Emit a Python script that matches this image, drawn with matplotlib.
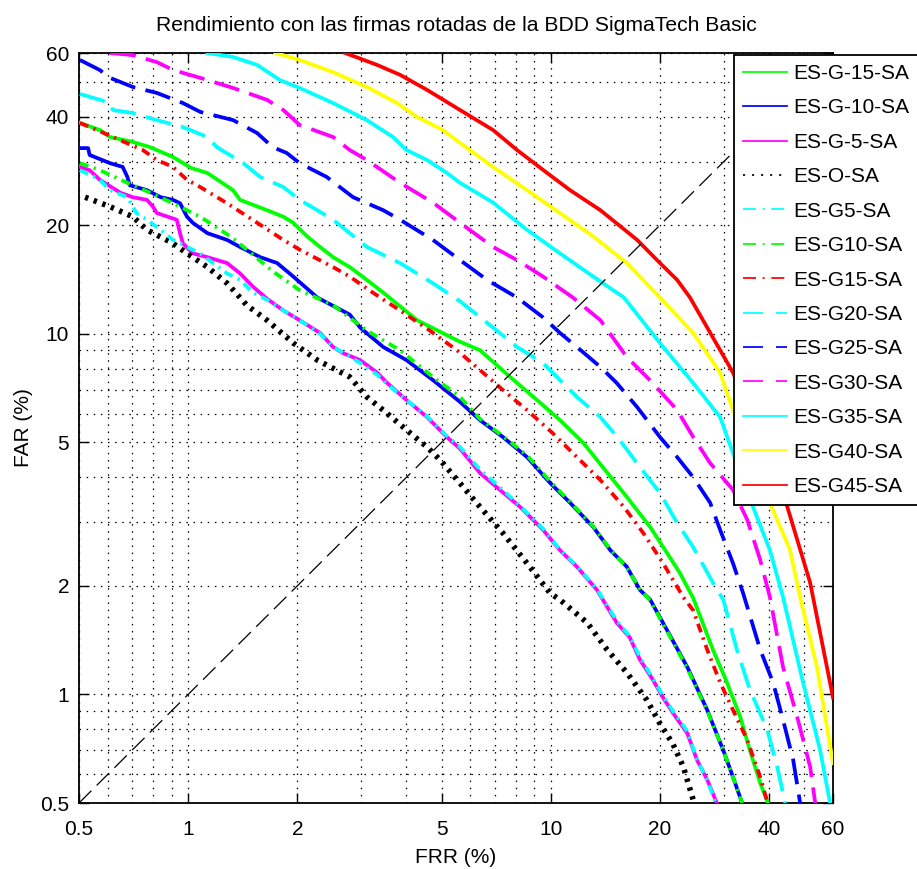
import matplotlib.pyplot as plt
import numpy as np
from matplotlib.lines import Line2D

plt.rcParams['font.family'] = ['Liberation Sans', 'DejaVu Sans']

axis_lim = [0.5, 60]
tick_vals = [0.5, 1, 2, 5, 10, 20, 40, 60]
tick_labels = ['0.5', '1', '2', '5', '10', '20', '40', '60']
grid_minor = [0.6, 0.7, 0.8, 0.9, 3, 4, 6, 7, 8, 9, 30, 50]

# DET curves: FRR (%) vs FAR (%)
frr_g15n = [0.503, 0.571, 0.609, 0.704, 0.785, 0.908, 1.02, 1.13, 1.33, 1.39, 1.65, 1.83, 1.95, 2.13, 2.31, 2.51,
            2.79, 3.11, 3.45, 4.28, 5.62, 6.38, 7.72, 9.16, 10.6, 12.3, 13.9, 16.2, 18.8, 20.9, 22.7, 24.7, 28.0,
            30.6, 33.3, 35.4, 37.8, 39.7]
far_g15n = [38.4, 36.7, 35.1, 34.0, 32.9, 30.9, 28.8, 27.9, 25.0, 23.5, 22.0, 21.1, 20.3, 18.6, 17.4, 16.3,
            15.3, 14.1, 13.0, 10.9, 9.5, 9.0, 7.59, 6.55, 5.76, 4.98, 4.27, 3.53, 2.91, 2.47, 2.17, 1.85, 1.33,
            1.08, 0.866, 0.70, 0.568, 0.5]

frr_g10n = [0.503, 0.53, 0.535, 0.609, 0.66, 0.68, 0.69, 0.77, 0.84, 0.908, 0.95, 0.993, 1.03, 1.13, 1.28, 1.39,
            1.58, 1.76, 1.95, 2.27, 2.79, 2.98, 3.45, 4.0, 4.73, 5.62, 6.38, 7.38, 8.6, 9.95, 11.3, 13.1, 14.6,
            16.2, 17.6, 18.8, 20.9, 23.8, 27.0, 29.9, 31.8, 33.7]
far_g10n = [32.7, 32.7, 31.3, 29.7, 29.0, 27.2, 25.8, 25.0, 23.9, 23.5, 23.0, 21.1, 20.3, 19.0, 18.2, 17.4,
            16.3, 15.7, 14.4, 12.6, 11.3, 10.4, 9.19, 8.45, 7.44, 6.47, 5.76, 5.17, 4.55, 3.86, 3.40, 2.91, 2.51,
            2.26, 1.95, 1.83, 1.51, 1.19, 0.905, 0.70, 0.59, 0.5]

frr_g5n = [0.503, 0.535, 0.571, 0.65, 0.704, 0.77, 0.80, 0.82, 0.93, 0.95, 0.967, 1.03, 1.13, 1.28, 1.39, 1.51,
           1.65, 1.83, 2.03, 2.31, 2.51, 2.67, 2.98, 3.32, 3.54, 4.0, 4.56, 5.17, 5.62, 6.38, 7.24, 8.23, 9.52,
           10.6, 11.8, 13.4, 15.2, 16.5, 17.6, 19.1, 20.4, 21.7, 23.8, 25.3, 27.0, 28.7]
far_g5n = [29.0, 28.4, 26.7, 24.6, 23.9, 23.5, 22.5, 21.6, 20.7, 19.0, 17.8, 16.7, 16.3, 15.7, 14.7, 13.5,
           12.5, 11.6, 10.9, 10.05, 9.19, 8.84, 8.45, 7.8, 7.3, 6.55, 5.87, 5.17, 4.8, 4.11, 3.69, 3.31, 2.86,
           2.51, 2.26, 1.95, 1.58, 1.44, 1.25, 1.10, 0.98, 0.89, 0.78, 0.658, 0.58, 0.5]

frr_orig = [0.52, 0.609, 0.704, 0.77, 0.908, 0.993, 1.13, 1.28, 1.39, 1.45, 1.65, 1.95, 2.27, 2.79, 3.11, 3.45,
            4.0, 4.56, 4.95, 5.62, 6.38, 7.38, 8.6, 9.95, 10.6, 12.6, 14.3, 16.2, 18.4, 20.0, 21.7, 23.2, 24.7]
far_orig = [23.9, 22.5, 21.1, 19.4, 17.8, 16.7, 15.3, 13.8, 12.6, 12.0, 10.9, 9.42, 8.45, 7.59, 6.68, 6.14,
            5.41, 4.85, 4.47, 3.85, 3.31, 2.80, 2.31, 1.91, 1.83, 1.58, 1.33, 1.15, 0.965, 0.83, 0.73, 0.63, 0.51]

frr_g5 = [0.503, 0.571, 0.609, 0.68, 0.704, 0.72, 0.77, 0.84, 0.908, 0.993, 1.08, 1.17, 1.28, 1.39, 1.51, 1.68,
          1.83, 2.03, 2.31, 2.51, 2.98, 3.32, 3.54, 4.0, 4.56, 5.17, 5.62, 6.38, 7.24, 8.23, 9.52, 10.6, 11.8,
          13.4, 15.2, 16.5, 17.6, 19.1, 20.4, 21.7, 23.8, 25.3, 27.0, 28.5]
far_g5 = [28.4, 26.7, 25.0, 23.9, 22.5, 21.6, 20.7, 19.4, 18.2, 17.4, 16.7, 15.7, 14.7, 14.1, 13.0, 12.3,
          11.6, 10.9, 10.0, 9.2, 8.3, 7.7, 7.25, 6.55, 5.9, 5.2, 4.85, 4.2, 3.75, 3.33, 2.88, 2.52, 2.27,
          1.96, 1.6, 1.45, 1.27, 1.11, 0.99, 0.9, 0.79, 0.66, 0.58, 0.5]

frr_g10 = [0.503, 0.571, 0.68, 0.785, 0.908, 1.08, 1.33, 1.71, 2.03, 2.51, 3.11, 3.84, 4.73, 5.62, 6.38, 7.38,
           8.6, 9.95, 11.3, 13.1, 14.6, 16.2, 17.6, 18.8, 20.9, 23.8, 27.0, 29.9, 31.8, 33.7]
far_g10 = [29.7, 28.4, 26.2, 24.6, 23.0, 21.1, 18.4, 14.9, 13.2, 12.0, 10.2, 9.0, 7.59, 6.68, 5.8, 5.2,
           4.6, 3.9, 3.42, 2.92, 2.52, 2.25, 1.96, 1.82, 1.5, 1.18, 0.9, 0.70, 0.59, 0.5]

frr_g15 = [0.503, 0.56, 0.62, 0.75, 0.82, 0.908, 0.993, 1.08, 1.28, 1.55, 1.83, 2.03, 2.51, 2.79, 3.23, 3.84,
           4.64, 5.51, 6.38, 7.38, 8.6, 10.1, 11.8, 13.7, 15.9, 18.0, 20.4, 23.2, 24.7, 27.0, 29.3, 31.8, 34.8,
           37.8, 39.4]
far_g15 = [38.4, 36.7, 35.1, 32.3, 30.3, 29.0, 26.7, 25.5, 23.0, 20.3, 18.2, 17.1, 15.3, 14.4, 13.0, 11.6,
           10.2, 9.0, 7.93, 6.98, 6.14, 5.31, 4.55, 3.93, 3.31, 2.80, 2.31, 1.86, 1.71, 1.33, 1.08, 0.905, 0.748,
           0.59, 0.51]

frr_g20 = [0.503, 0.571, 0.609, 0.62, 0.704, 0.82, 0.967, 1.13, 1.20, 1.33, 1.42, 1.58, 1.83, 2.03, 2.27, 2.51,
           2.79, 3.11, 3.84, 4.73, 5.62, 6.93, 8.07, 9.52, 10.6, 11.8, 13.7, 15.5, 17.6, 20.0, 22.3, 24.7, 28.0,
           29.9, 32.6, 35.4, 39.5, 42.1, 44.3]
far_g20 = [46.2, 44.5, 43.6, 41.7, 40.9, 39.1, 37.4, 35.1, 32.9, 30.9, 29.7, 27.2, 25.5, 23.5, 22.0, 20.7,
           19.0, 17.4, 15.7, 13.8, 12.3, 10.4, 9.19, 8.29, 7.44, 6.68, 5.87, 5.07, 4.27, 3.62, 2.99, 2.56, 2.04,
           1.83, 1.33, 1.03, 0.80, 0.63, 0.5]

frr_g25 = [0.503, 0.571, 0.609, 0.704, 0.82, 0.967, 1.08, 1.33, 1.55, 1.71, 1.87, 2.03, 2.41, 2.62, 2.85, 3.45,
           3.84, 4.73, 5.62, 6.67, 8.07, 9.52, 10.6, 11.8, 13.7, 15.2, 17.3, 20.0, 22.3, 24.7, 27.5, 29.3, 31.8,
           33.9, 37.8, 41.0, 43.7, 46.6, 48.7]
far_g25 = [57.4, 53.8, 51.2, 48.3, 46.5, 43.6, 41.2, 39.1, 36.0, 32.9, 31.7, 29.7, 27.2, 25.5, 23.9, 22.0,
           20.7, 18.2, 16.0, 14.1, 12.6, 11.1, 10.05, 9.19, 8.09, 7.3, 6.26, 5.17, 4.55, 4.0, 3.40, 2.86, 2.31,
           1.91, 1.33, 1.08, 0.85, 0.658, 0.5]

frr_g30 = [0.609, 0.704, 0.82, 0.91, 1.08, 1.33, 1.65, 1.83, 2.03, 2.51, 2.79, 3.11, 3.84, 4.73, 5.62, 6.93,
           8.07, 9.52, 11.5, 13.7, 16.2, 19.1, 22.3, 24.7, 27.5, 31.8, 34.8, 37.8, 40.2, 43.7, 47.8, 51.9, 53.6]
far_g30 = [60.0, 59.2, 56.6, 53.8, 51.2, 48.0, 44.5, 41.7, 37.9, 35.1, 32.3, 30.3, 26.2, 23.1, 20.3, 17.4,
           16.0, 14.4, 12.6, 10.9, 8.62, 7.3, 6.14, 5.17, 4.38, 3.69, 3.05, 2.36, 1.86, 1.19, 0.866, 0.63, 0.5]

frr_g35 = [1.13, 1.33, 1.55, 1.79, 2.03, 2.51, 3.11, 3.67, 4.0, 4.56, 5.17, 5.62, 6.93, 8.6, 10.6, 13.1, 15.9,
           20.0, 24.7, 29.3, 31.8, 36.1, 40.2, 43.7, 49.6, 55.3, 58.9]
far_g35 = [60.0, 58.5, 55.6, 50.5, 48.0, 43.6, 39.1, 35.1, 32.3, 30.3, 27.9, 26.2, 23.1, 19.4, 16.7, 14.4, 12.6,
           9.42, 7.3, 5.87, 4.67, 3.31, 2.51, 1.86, 1.08, 0.70, 0.5]

frr_g40 = [1.74, 2.03, 2.51, 3.11, 3.77, 4.28, 5.04, 5.62, 6.93, 8.6, 10.6, 13.1, 16.2, 20.0, 24.7, 29.3, 31.8,
           36.0, 40.2, 45.7, 48.7, 54.2, 60.0]
far_g40 = [60.0, 57.4, 53.1, 48.3, 43.6, 39.9, 36.7, 33.8, 29.0, 25.0, 21.6, 18.6, 15.7, 12.6, 10.05, 7.8, 6.14,
           4.5, 3.40, 2.51, 1.86, 1.19, 0.645]

frr_g45 = [2.71, 3.32, 3.84, 4.56, 5.62, 6.93, 8.07, 9.77, 11.3, 13.7, 17.3, 20.0, 22.3, 24.2, 31.8, 37.8, 44.9,
           51.9, 60.0]
far_g45 = [60.0, 55.6, 52.2, 47.4, 41.7, 36.7, 32.3, 27.9, 25.0, 22.0, 18.2, 15.7, 14.1, 12.6, 7.8, 5.07, 3.31,
           2.04, 0.98]

curves = [
    ('ES-G-15-SA', frr_g15n, far_g15n, '#00ff00', 'solid'),
    ('ES-G-10-SA', frr_g10n, far_g10n, '#0000ff', 'solid'),
    ('ES-G-5-SA', frr_g5n, far_g5n, '#ff00ff', 'solid'),
    ('ES-O-SA', frr_orig, far_orig, 'black', 'dot'),
    ('ES-G5-SA', frr_g5, far_g5, '#00ffff', 'dashdot'),
    ('ES-G10-SA', frr_g10, far_g10, '#00ff00', 'dashdot'),
    ('ES-G15-SA', frr_g15, far_g15, '#ff0000', 'dashdot'),
    ('ES-G20-SA', frr_g20, far_g20, '#00ffff', 'dash'),
    ('ES-G25-SA', frr_g25, far_g25, '#0000ff', 'dash'),
    ('ES-G30-SA', frr_g30, far_g30, '#ff00ff', 'dash'),
    ('ES-G35-SA', frr_g35, far_g35, '#00ffff', 'solid'),
    ('ES-G40-SA', frr_g40, far_g40, '#ffff00', 'solid'),
    ('ES-G45-SA', frr_g45, far_g45, '#ff0000', 'solid'),
]

# dash patterns (in units of line width) for the curves and for the legend samples
curve_dash = {'solid': None, 'dot': (0.6, 1.05), 'dashdot': (2.4, 1.5, 0.6, 1.5), 'dash': (6.9, 2.8)}
legend_dash = {'solid': None, 'dot': (1.2, 4.0), 'dashdot': (7.5, 3.8, 1.2, 3.8), 'dash': (11.5, 7.5)}

fig = plt.figure(figsize=(9.17, 8.69), dpi=100)
ax = fig.add_axes([0.0861, 0.0759, 0.8223, 0.8631])

handles = []
for label, frr, far, color, style in curves:
    lw = 4.0 if style == 'dot' else 2.7
    line, = ax.plot(frr, far, color=color, lw=lw, zorder=3)
    if curve_dash[style] is not None:
        line.set_dashes(curve_dash[style])
    h = Line2D([], [], color=color, lw=1.25)
    if legend_dash[style] is not None:
        h.set_dashes(legend_dash[style])
    handles.append(h)

# equal error rate diagonal
ax.plot(axis_lim, axis_lim, color='black', lw=0.9, dashes=(14, 6), zorder=4)

ax.set_xscale('log')
ax.set_yscale('log')
ax.set_xlim(axis_lim)
ax.set_ylim(axis_lim)
ax.set_xticks(tick_vals)
ax.set_xticklabels(tick_labels)
ax.set_yticks(tick_vals)
ax.set_yticklabels(tick_labels)
ax.set_xticks(grid_minor, minor=True)
ax.set_yticks(grid_minor, minor=True)
ax.tick_params(which='major', direction='in', length=7, width=1, top=True, right=True, labelsize=15)
ax.tick_params(axis='x', which='major', pad=12)
ax.tick_params(axis='y', which='major', pad=7)
ax.tick_params(which='minor', length=0)
ax.grid(True, which='both', color='black', lw=0.9, dashes=(1.2, 4.5))
for s in ax.spines.values():
    s.set_linewidth(1.3)

ax.set_title('Rendimiento con las firmas rotadas de la BDD SigmaTech Basic', fontsize=15.2, pad=16)
ax.set_xlabel('FRR (%)', fontsize=15, labelpad=7)
ax.set_ylabel('FAR (%)', fontsize=15, labelpad=5)

leg = ax.legend(handles, [c[0] for c in curves], loc='upper left', bbox_to_anchor=(0.869, 0.997),
                borderaxespad=0, fontsize=15, frameon=True, fancybox=False, framealpha=1,
                edgecolor='black', handlelength=2.1, handletextpad=0.3, borderpad=0.42,
                labelspacing=0.74)
leg.get_frame().set_linewidth(1.3)
leg.set_zorder(10)

fig.savefig('out.png', dpi=100)
